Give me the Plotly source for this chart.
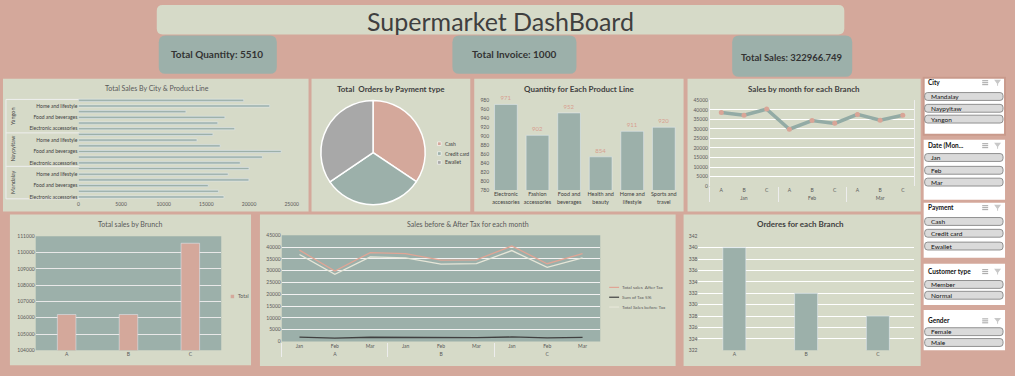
import plotly.graph_objects as go

W, H = 1015, 376


def fx(p):
    return p / W


def fy(p):
    return 1 - p / H


# ---------------- data ----------------
cities = ["Mandalay", "Naypyitaw", "Yangon"]
product_lines = ["Electronic accessories", "Fashion accessories", "Food and beverages",
                 "Health and beauty", "Home and lifestyle", "Sports and travel"]
sales_mandalay = [17051.44, 16413.32, 15214.89, 19980.66, 17549.16, 19988.20]
sales_naypyitaw = [18968.97, 21560.07, 23766.86, 16615.33, 13895.55, 15761.93]
sales_yangon = [18317.11, 16332.51, 17163.10, 12597.75, 22417.20, 19372.70]
city_axis_ticks = [0, 5000, 10000, 15000, 20000, 25000]

payment_types = ["Cash", "Credit card", "Ewallet"]
payment_orders = [344, 311, 345]

qty_categories = ["Electronic<br>accessories", "Fashion<br>accessories", "Food and<br>beverages",
                  "Health and<br>beauty", "Home and<br>lifestyle", "Sports and<br>travel"]
qty_values = [971, 902, 952, 854, 911, 920]

month_outer = ["Jan", "Jan", "Jan", "Feb", "Feb", "Feb", "Mar", "Mar", "Mar"]
branch_inner = ["A", "B", "C", "A", "B", "C", "A", "B", "C"]
sales_month_branch = [38681.13, 37176.06, 40434.68, 29860.12, 34424.27, 32934.98,
                      37659.12, 34597.34, 37199.04]

branches = ["A", "B", "C"]
branch_total_sales = [106200.37, 106197.67, 110568.71]
branch_orders = [340, 332, 328]

branch_outer = ["A", "A", "A", "B", "B", "B", "C", "C", "C"]
month_inner = ["Jan", "Feb", "Mar", "Jan", "Feb", "Mar", "Jan", "Feb", "Mar"]
sales_after_tax = [38681.13, 29860.12, 37659.12, 37176.06, 34424.27, 34597.34,
                   40434.68, 32934.98, 37199.04]
tax_5pct = [1841.96, 1421.91, 1793.29, 1770.29, 1639.25, 1647.49, 1925.46, 1568.33, 1771.38]
sales_before_tax = [36839.17, 28438.21, 35865.83, 35405.77, 32785.02, 32949.85,
                    38509.22, 31366.65, 35427.66]

kpi_quantity = "5510"
kpi_invoice = "1000"
kpi_sales = "322966.749"

# ---------------- style ----------------
FONT = "Lato"
BG = "#D4A89B"
PANEL = "#D6DAC8"
TEAL = "#9CB0AA"
GRAYS = "#A8A8A8"
PINK = "#D4A89B"
TXT = "#404040"
TICK = "#595959"

shapes = []
annotations = []


def rect(x0, y0, x1, y1, fill, lc=None, lw=0, layer="below"):
    shapes.append(dict(type="rect", xref="paper", yref="paper",
                       x0=fx(x0), x1=fx(x1), y0=fy(y1), y1=fy(y0),
                       fillcolor=fill, line=dict(color=lc or fill, width=lw), layer=layer))


def rrect(x0, y0, x1, y1, r, fill, lc=None, lw=0, layer="below"):
    def P(x, y):
        return f"{fx(x):.5f},{fy(y):.5f}"
    path = (f"M {P(x0 + r, y0)} L {P(x1 - r, y0)} Q {P(x1, y0)} {P(x1, y0 + r)} "
            f"L {P(x1, y1 - r)} Q {P(x1, y1)} {P(x1 - r, y1)} L {P(x0 + r, y1)} "
            f"Q {P(x0, y1)} {P(x0, y1 - r)} L {P(x0, y0 + r)} Q {P(x0, y0)} {P(x0 + r, y0)} Z")
    shapes.append(dict(type="path", xref="paper", yref="paper", path=path,
                       fillcolor=fill, line=dict(color=lc or fill, width=lw), layer=layer))


def line(x0, y0, x1, y1, color, w=1, layer="above"):
    shapes.append(dict(type="line", xref="paper", yref="paper",
                       x0=fx(x0), x1=fx(x1), y0=fy(y0), y1=fy(y1),
                       line=dict(color=color, width=w), layer=layer))


def text(x, y, s, size, color=TXT, xanchor="center", angle=0, family=FONT):
    annotations.append(dict(x=fx(x), y=fy(y), xref="paper", yref="paper", text=s,
                            showarrow=False, xanchor=xanchor, yanchor="middle",
                            textangle=angle, font=dict(family=family, size=size, color=color)))


# header
rrect(157, 2, 850, 32, 6, PANEL)
text(503, 18, "Supermarket DashBoard", 25, "#3F3F3F")
rrect(159, 33, 278, 72, 7, TEAL)
rrect(455, 33, 580, 72, 7, TEAL)
rrect(737, 33, 858, 75, 7, TEAL)
text(218, 52, f"<b>Total Quantity: {kpi_quantity}</b>", 10, "#333333")
text(517, 52, f"<b>Total Invoice: {kpi_invoice}</b>", 10, "#333333")
text(797, 55, f"<b>Total Sales: {kpi_sales}</b>", 9.5, "#333333")

# panels
rect(2, 77, 310, 212, PANEL)
rect(313, 77, 473, 212, PANEL)
rect(477, 77, 688, 212, PANEL)
rect(692, 77, 927, 212, PANEL)
rect(9, 215, 252, 368, PANEL)
rect(261, 215, 680, 369, PANEL)
rect(688, 215, 927, 369, PANEL)
# teal plot areas
rect(35, 237, 222, 353, TEAL)
rect(283, 236, 604, 344, TEAL)

# chart titles
text(157, 86, "Total Sales By City & Product Line", 7, TICK)
text(393, 87, "<b>Total  Orders by Payment type</b>", 8, TXT)
text(583, 87, "<b>Quantity for Each Product Line</b>", 8, TXT)
text(809, 87, "<b>Sales by month for each Branch</b>", 8, TXT)
text(131, 225, "Total sales by Brunch", 7, TICK)
text(471, 225, "Sales before & After Tax for each month", 7, TICK)
text(806, 225, "<b>Orderes for each Branch</b>", 8, TXT)

# city group labels (chart 1)
for yy in (98, 132, 166, 199):
    line(5, yy, 79, yy, "#EEEEEE", 1, "below")
line(5, 98, 5, 199, "#EEEEEE", 1, "below")
for cname, yc in zip(cities, [182, 148, 115]):
    text(12, yc, cname, 5.5, TXT, angle=-90)

# pie legend
for lab, col, yy in zip(payment_types, [PINK, TEAL, GRAYS], [143, 153, 162]):
    rect(440, yy - 1.8, 443.6, yy + 1.8, col, "white", 0.6, "above")
    text(446, yy, lab, 5, TXT, xanchor="left")

# brunch legend
rect(231.5, 296.5, 235, 300, PINK, layer="above")
text(237, 298, "Total", 5, TICK, xanchor="left")

# before/after legend
for lab, col, yy in zip(["Total sales  After Tax", "Sum of Tax 5%", "Total Sales before Tax"],
                        ["#E0A595", "#404040", "#E6E6D8"], [289, 299, 309]):
    line(613, yy, 623, yy, col, 1.2)
    text(624, yy, lab, 4.6, TICK, xanchor="left")

# slicers
slicers = [
    ("City", 76, 134, 81, ["Mandalay", "Naypyitaw", "Yangon"], [95, 107, 118]),
    ("Date (Mon...", 139, 200, 145, ["Jan", "Feb", "Mar"], [157, 170, 182]),
    ("Payment", 203, 259, 208, ["Cash", "Credit card", "Ewallet"], [222, 234, 247]),
    ("Customer type", 265, 307, 273, ["Member", "Normal"], [286, 297]),
    ("Gender", 312, 353, 323, ["Female", "Male"], [334, 345]),
]
for i, (title, y0, y1, ty, items, iys) in enumerate(slicers):
    if i == 0:
        rect(930, y0, 1012, y1, "white", "#C99A8C", 2, "above")
    else:
        rect(930, y0, 1012, y1, "white", layer="above")
    text(932, ty, f"<b>{title}</b>", 6.5, "#111111", xanchor="left")
    for k in range(3):
        line(989, ty - 2 + 2 * k, 995, ty - 2 + 2 * k, "#8C8C8C", 0.8)
    shapes.append(dict(type="path", xref="paper", yref="paper",
                       path=f"M {fx(1001):.5f},{fy(ty - 3):.5f} L {fx(1008):.5f},{fy(ty - 3):.5f} "
                            f"L {fx(1005):.5f},{fy(ty + 1):.5f} L {fx(1005):.5f},{fy(ty + 3):.5f} "
                            f"L {fx(1004):.5f},{fy(ty + 3):.5f} L {fx(1004):.5f},{fy(ty + 1):.5f} Z",
                       fillcolor="#C8C8C8", line=dict(width=0), layer="above"))
    for it, iy in zip(items, iys):
        rrect(931, iy - 4, 1010, iy + 4, 3, "#DADADA", "#7A7A7A", 0.8, "above")
        text(935, iy, it, 6.5, "#111111", xanchor="left")

fig = go.Figure()

# chart 1: horizontal bars by city & product line
city_sales = sales_mandalay + sales_naypyitaw + sales_yangon
positions = list(range(len(city_sales)))
fig.add_trace(go.Bar(x=city_sales, y=positions, orientation="h", width=0.38,
                     marker=dict(color=TEAL), xaxis="x", yaxis="y", showlegend=False))

# pie
fig.add_trace(go.Pie(labels=payment_types, values=payment_orders, sort=False,
                     direction="clockwise", rotation=0, textinfo="none",
                     marker=dict(colors=[PINK, TEAL, GRAYS], line=dict(color="white", width=1.5)),
                     domain=dict(x=[fx(322), fx(428)], y=[fy(205), fy(99)]), showlegend=False))

# quantity per product line
fig.add_trace(go.Bar(x=qty_categories, y=qty_values, width=0.72, marker=dict(color=TEAL),
                     text=qty_values, textposition="outside", cliponaxis=False,
                     textfont=dict(family=FONT, size=6, color="#D89E8F"),
                     xaxis="x2", yaxis="y2", showlegend=False))

# sales by month for each branch
fig.add_trace(go.Scatter(x=[month_outer, branch_inner], y=sales_month_branch, mode="lines+markers",
                         line=dict(color="#93ABA5", width=3.5),
                         marker=dict(color="#D9A597", size=5),
                         xaxis="x3", yaxis="y3", showlegend=False))

# total sales by branch
fig.add_trace(go.Bar(x=branches, y=branch_total_sales, width=0.3, marker=dict(color=PINK),
                     xaxis="x4", yaxis="y4", showlegend=False))

# sales before / after tax
fig.add_trace(go.Scatter(x=[branch_outer, month_inner], y=sales_after_tax, mode="lines",
                         line=dict(color="#E0A595", width=1.3), xaxis="x5", yaxis="y5", showlegend=False))
fig.add_trace(go.Scatter(x=[branch_outer, month_inner], y=tax_5pct, mode="lines",
                         line=dict(color="#404040", width=1.3), xaxis="x5", yaxis="y5", showlegend=False))
fig.add_trace(go.Scatter(x=[branch_outer, month_inner], y=sales_before_tax, mode="lines",
                         line=dict(color="#E6E6D8", width=1.3), xaxis="x5", yaxis="y5", showlegend=False))

# orders per branch
fig.add_trace(go.Bar(x=branches, y=branch_orders, width=0.32, marker=dict(color=TEAL),
                     xaxis="x6", yaxis="y6", showlegend=False))

tf = dict(family=FONT, size=5, color=TICK)
base = dict(showgrid=False, zeroline=False, showline=False, ticks="", tickfont=tf, fixedrange=True)
num = dict(tickformat="d", separatethousands=False, exponentformat="none")

tick_idx = [0, 2, 4, 6, 8, 10, 12, 14, 16]
tick_txt = [product_lines[i % 6] for i in tick_idx]

fig.update_layout(
    width=W, height=H, autosize=False,
    margin=dict(l=0, r=0, t=0, b=0),
    paper_bgcolor=BG, plot_bgcolor="rgba(0,0,0,0)",
    font=dict(family=FONT, color=TXT),
    showlegend=False,
    bargap=0.3,
    shapes=shapes, annotations=annotations,
    xaxis=dict(base, **num, domain=[fx(78), fx(293)], range=[0, 25000], tickvals=city_axis_ticks,
               anchor="y"),
    yaxis=dict(base, domain=[fy(200), fy(96)], range=[-0.5, 17.5], tickvals=tick_idx,
               ticktext=tick_txt, anchor="x",
               tickfont=dict(family=FONT, size=5, color=TXT)),
    xaxis2=dict(base, domain=[fx(493), fx(684)], anchor="y2",
                tickfont=dict(family=FONT, size=5.5, color=TXT)),
    yaxis2=dict(base, **num, domain=[fy(190), fy(99)], range=[780, 980], dtick=20, anchor="x2"),
    xaxis3=dict(base, domain=[fx(714.6), fx(920.4)], anchor="y3", type="multicategory",
                range=[-0.5, 8.5],
                showdividers=True, dividercolor="#EDEDED", dividerwidth=1),
    yaxis3=dict(base, **num, domain=[fy(186), fy(99)], range=[0, 45000], dtick=5000, anchor="x3",
                showgrid=True, gridcolor="#FFFFFF", gridwidth=1,
                showline=True, mirror=True, linecolor="#EDEDED", linewidth=1),
    xaxis4=dict(base, domain=[fx(35), fx(222)], anchor="y4"),
    yaxis4=dict(base, **num, domain=[fy(353), fy(237)], range=[104000, 111000], dtick=1000, anchor="x4",
                showgrid=True, gridcolor="#E8E8E8", gridwidth=1),
    xaxis5=dict(base, domain=[fx(283), fx(604)], anchor="y5", type="multicategory",
                range=[-0.5, 8.5],
                showdividers=True, dividercolor="#EDEDED", dividerwidth=1),
    yaxis5=dict(base, **num, domain=[fy(344), fy(236)], range=[0, 45000], dtick=5000, anchor="x5",
                showgrid=True, gridcolor="#F2F2F2", gridwidth=1),
    xaxis6=dict(base, domain=[fx(703), fx(920)], anchor="y6"),
    yaxis6=dict(base, **num, domain=[fy(353), fy(237)], range=[322, 342], dtick=2, anchor="x6",
                showgrid=True, gridcolor="#FFFFFF", gridwidth=1),
)

fig.write_html("out.html",
               config={"displayModeBar": False},
               post_script="document.documentElement.style.margin='0';"
                           "document.body.style.margin='0';"
                           "document.body.style.overflow='hidden';")
